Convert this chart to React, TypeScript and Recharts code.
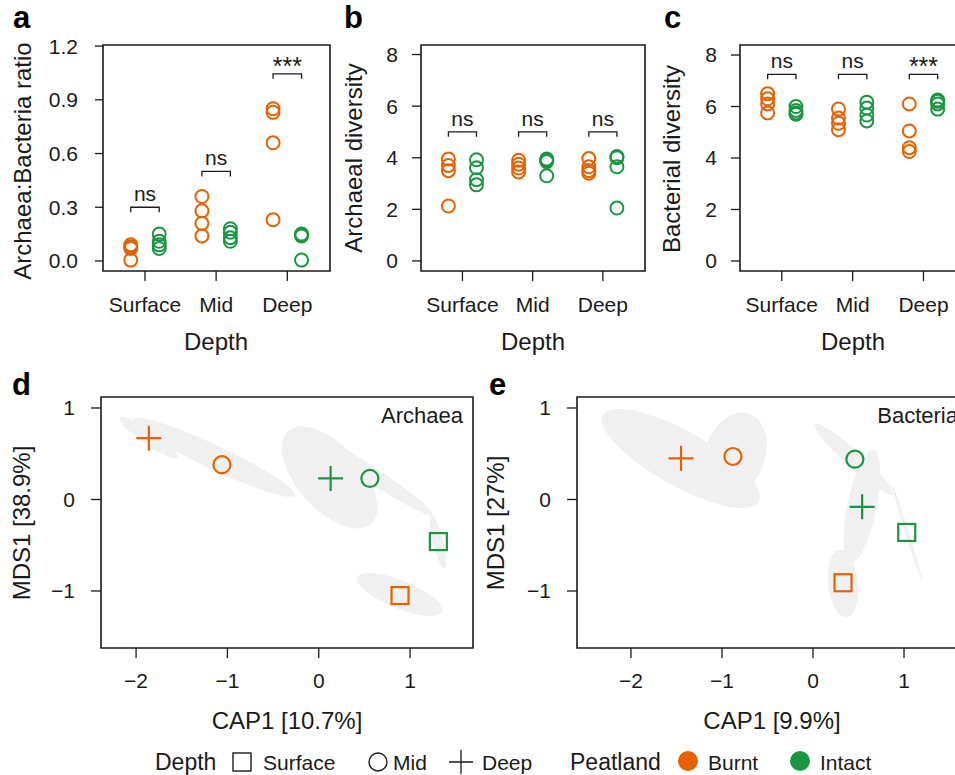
import { ReferenceArea, Scatter, ScatterChart, XAxis, YAxis } from 'recharts';

const FONT = '"Liberation Sans", Arial, Helvetica, sans-serif';
const ORANGE = '#e66101';
const GREEN = '#1a9641';
const INK = '#1a1a1a';
const HALO = '#f0f0f0';

const depths = ['Surface', 'Mid', 'Deep'];

// a: archaea:bacteria ratio, four cores per depth
const ratioBurnt = [[0.09, 0.08, 0.07, 0.005], [0.36, 0.28, 0.21, 0.14], [0.85, 0.83, 0.66, 0.23]];
const ratioIntact = [[0.15, 0.11, 0.09, 0.07], [0.18, 0.16, 0.13, 0.11], [0.15, 0.145, 0.14, 0.005]];
const ratioSig = ['ns', 'ns', '***'];
const ratioSigAt = [0.3, 0.5, 1.045];
const ratioTicks = [0, 0.3, 0.6, 0.9, 1.2];

// b: archaeal diversity
const archDivBurnt = [[3.95, 3.7, 3.5, 2.13], [3.9, 3.75, 3.6, 3.45], [3.97, 3.65, 3.5, 3.4]];
const archDivIntact = [[3.92, 3.61, 3.15, 2.95], [3.95, 3.9, 3.85, 3.3], [4.05, 4.0, 3.65, 2.05]];
const archDivSig = ['ns', 'ns', 'ns'];
const archDivSigAt = [5, 5, 5];

// c: bacterial diversity
const bactDivBurnt = [[6.5, 6.3, 6.1, 5.75], [5.9, 5.55, 5.35, 5.1], [6.1, 5.05, 4.4, 4.25]];
const bactDivIntact = [[6.0, 5.85, 5.75, 5.7], [6.17, 5.94, 5.67, 5.44], [6.25, 6.2, 6.1, 5.9]];
const bactDivSig = ['ns', 'ns', '***'];
const bactDivSigAt = [7.25, 7.25, 7.25];
const diversityTicks = [0, 2, 4, 6, 8];

// d, e: group centroids, order Surface, Mid, Deep
const archBurntX = [0.89, -1.06, -1.86];
const archBurntY = [-1.05, 0.38, 0.67];
const archIntactX = [1.31, 0.56, 0.13];
const archIntactY = [-0.46, 0.23, 0.23];
const bactBurntX = [0.33, -0.88, -1.45];
const bactBurntY = [-0.91, 0.47, 0.45];
const bactIntactX = [1.03, 0.46, 0.54];
const bactIntactY = [-0.36, 0.44, -0.08];

// dispersion ellipses: centre x, centre y, semi-axis a, semi-axis b, angle (deg)
const archEllipses = [
  [-1.864, 0.678, 0.383, 0.077, -34.6],
  [-1.14, 0.459, 0.975, 0.13, -25.3],
  [0.121, 0.24, 0.68, 0.35, -48],
  [0.504, 0.317, 0.887, 0.088, -33],
  [1.305, -0.459, 0.307, 0.055, -76.5],
  [0.888, -1.038, 0.504, 0.153, -22],
];
const bactEllipses = [
  [-1.451, 0.448, 0.978, 0.3, -29],
  [-0.857, 0.492, 0.47, 0.33, 70],
  [0.451, 0.437, 0.575, 0.09, -42],
  [0.538, -0.077, 0.63, 0.16, 78.5],
  [1.033, -0.361, 0.535, 0.022, -72.7],
  [0.33, -0.918, 0.37, 0.164, 96],
];
const ordTicksX = [-2, -1, 0, 1];
const ordTicksY = [-1, 0, 1];

const minus = (v: number) => String(v).replace('-', '\u2212');

const tickStyle = { fill: INK, fontSize: 21, fontFamily: FONT };

function stripPoints(groups: number[][], offset: number) {
  return groups.flatMap((vals, i) => vals.map((v) => ({ x: i + 1 + offset, y: v })));
}

function outline([cx, cy, a, b, deg]: number[]) {
  const r = (deg * Math.PI) / 180;
  return Array.from({ length: 72 }, (_, k) => {
    const t = (k / 72) * 2 * Math.PI;
    return {
      x: cx + a * Math.cos(t) * Math.cos(r) - b * Math.sin(t) * Math.sin(r),
      y: cy + a * Math.cos(t) * Math.sin(r) + b * Math.sin(t) * Math.cos(r),
    };
  });
}

const none = () => <g />;

const ring = (color: string) => (p: any) => (
  <circle cx={p.cx} cy={p.cy} r={6.5} fill="none" stroke={color} strokeWidth={2} />
);

const sigLabel = (p: any) => {
  const text = p.payload?.text ?? p.text;
  const stars = text === '***';
  return (
    <text
      x={p.cx}
      y={stars ? p.cy + 1 : p.cy - 6}
      textAnchor="middle"
      fontFamily={FONT}
      fontSize={stars ? 25 : 21}
      fill={INK}
    >
      {text}
    </text>
  );
};

const filledPath = (p: any) => {
  const pts = p.points || [];
  if (!pts.length) return <g />;
  const d = 'M' + pts.map((q: any) => `${q.x},${q.y}`).join('L') + 'Z';
  return <path d={d} fill={HALO} stroke="none" />;
};

const marker = (color: string) => (p: any) => {
  const kind = p.payload?.depth ?? p.depth;
  const { cx, cy } = p;
  if (kind === 0)
    return <rect x={cx - 8.5} y={cy - 8.5} width={17} height={17} fill="none" stroke={color} strokeWidth={2.2} />;
  if (kind === 1) return <circle cx={cx} cy={cy} r={8.5} fill="none" stroke={color} strokeWidth={2.2} />;
  return (
    <path
      d={`M${cx - 12.5},${cy}H${cx + 12.5}M${cx},${cy - 12.5}V${cy + 12.5}`}
      fill="none"
      stroke={color}
      strokeWidth={2.2}
    />
  );
};

type StripProps = {
  left: number;
  width: number;
  plotLeft: number;
  plotRight: number;
  yDomain: [number, number];
  yTicks: number[];
  yFmt: (v: number) => string;
  yTick: number;
  yMargin: number;
  burnt: number[][];
  intact: number[][];
  sig: string[];
  sigAt: number[];
  drop: number;
};

function StripPanel(props: StripProps) {
  const { left, width, plotLeft, plotRight, yDomain, yTicks, yFmt, yTick, yMargin, burnt, intact, sig, sigAt, drop } =
    props;
  const xDomain: [number, number] = [0.41, 3.6];
  const brackets = sigAt.map((h, i) => [
    { x: i + 0.8, y: h - drop },
    { x: i + 0.8, y: h },
    { x: i + 1.2, y: h },
    { x: i + 1.2, y: h - drop },
  ]);
  const sigPts = sig.map((s, i) => ({ x: i + 1, y: sigAt[i], text: s }));
  return (
    <div style={{ position: 'absolute', left, top: 0 }}>
      <ScatterChart width={width} height={360} margin={{ top: 45, right: width - plotRight, bottom: 0, left: 0 }}>
        <XAxis
          type="number"
          dataKey="x"
          domain={xDomain}
          allowDataOverflow
          ticks={[1, 2, 3]}
          tickFormatter={(v) => depths[v - 1]}
          height={89}
          axisLine={false}
          tickSize={10}
          tickMargin={16}
          tickLine={{ stroke: INK, strokeWidth: 1.3 }}
          tick={tickStyle}
        />
        <YAxis
          type="number"
          dataKey="y"
          domain={yDomain}
          allowDataOverflow
          ticks={yTicks}
          tickFormatter={yFmt}
          width={plotLeft}
          axisLine={false}
          tickSize={yTick}
          tickMargin={yMargin}
          tickLine={{ stroke: INK, strokeWidth: 1.3 }}
          tick={tickStyle}
        />
        <ReferenceArea
          x1={xDomain[0]}
          x2={xDomain[1]}
          y1={yDomain[0]}
          y2={yDomain[1]}
          fill="none"
          stroke={INK}
          strokeWidth={1.6}
          ifOverflow="visible"
        />
        {brackets.map((b, i) => (
          <Scatter
            key={`br${i}`}
            data={b}
            line={{ stroke: INK, strokeWidth: 1.3 }}
            lineType="joint"
            shape={none}
            isAnimationActive={false}
          />
        ))}
        <Scatter data={sigPts} shape={sigLabel} isAnimationActive={false} />
        <Scatter data={stripPoints(burnt, -0.2)} shape={ring(ORANGE)} isAnimationActive={false} />
        <Scatter data={stripPoints(intact, 0.2)} shape={ring(GREEN)} isAnimationActive={false} />
      </ScatterChart>
    </div>
  );
}

type OrdProps = {
  left: number;
  width: number;
  plotLeft: number;
  plotRight: number;
  xDomain: [number, number];
  burntX: number[];
  burntY: number[];
  intactX: number[];
  intactY: number[];
  ellipses: number[][];
};

function OrdPanel(props: OrdProps) {
  const { left, width, plotLeft, plotRight, xDomain, burntX, burntY, intactX, intactY, ellipses } = props;
  const yDomain: [number, number] = [-1.623, 1.12];
  const burnt = burntX.map((x, i) => ({ x, y: burntY[i], depth: i }));
  const intact = intactX.map((x, i) => ({ x, y: intactY[i], depth: i }));
  return (
    <div style={{ position: 'absolute', left, top: 365 }}>
      <ScatterChart width={width} height={370} margin={{ top: 32, right: width - plotRight, bottom: 0, left: 0 }}>
        <XAxis
          type="number"
          dataKey="x"
          domain={xDomain}
          allowDataOverflow
          ticks={ordTicksX}
          tickFormatter={minus}
          height={87}
          axisLine={false}
          tickSize={10}
          tickMargin={15}
          tickLine={{ stroke: INK, strokeWidth: 1.3 }}
          tick={tickStyle}
        />
        <YAxis
          type="number"
          dataKey="y"
          domain={yDomain}
          allowDataOverflow
          ticks={ordTicksY}
          tickFormatter={minus}
          width={plotLeft}
          axisLine={false}
          tickSize={10}
          tickMargin={16}
          tickLine={{ stroke: INK, strokeWidth: 1.3 }}
          tick={tickStyle}
        />
        {ellipses.map((e, i) => (
          <Scatter
            key={`el${i}`}
            data={outline(e)}
            line={filledPath}
            lineType="joint"
            shape={none}
            isAnimationActive={false}
          />
        ))}
        <ReferenceArea
          x1={xDomain[0]}
          x2={xDomain[1]}
          y1={yDomain[0]}
          y2={yDomain[1]}
          fill="none"
          stroke={INK}
          strokeWidth={1.6}
          ifOverflow="visible"
        />
        <Scatter data={burnt} shape={marker(ORANGE)} isAnimationActive={false} />
        <Scatter data={intact} shape={marker(GREEN)} isAnimationActive={false} />
      </ScatterChart>
    </div>
  );
}

function YTitle({ x, y, children }: { x: number; y: number; children: string }) {
  return (
    <text x={x} y={y} transform={`rotate(-90 ${x} ${y})`} textAnchor="middle" fontSize={24} fill={INK}>
      {children}
    </text>
  );
}

function Letter({ x, y, children }: { x: number; y: number; children: string }) {
  return (
    <text x={x} y={y} fontSize={31} fontWeight="bold" fill="#000">
      {children}
    </text>
  );
}

export default function App() {
  return (
    <div
      style={{
        position: 'fixed',
        left: 0,
        top: 0,
        width: 955,
        height: 775,
        overflow: 'hidden',
        background: '#fff',
        fontFamily: FONT,
      }}
    >
      <StripPanel
        left={0}
        width={335}
        plotLeft={103}
        plotRight={330}
        yDomain={[-0.056, 1.206]}
        yTicks={ratioTicks}
        yFmt={(v) => v.toFixed(1)}
        yTick={8}
        yMargin={17}
        burnt={ratioBurnt}
        intact={ratioIntact}
        sig={ratioSig}
        sigAt={ratioSigAt}
        drop={0.028}
      />
      <StripPanel
        left={330}
        width={325}
        plotLeft={91}
        plotRight={315}
        yDomain={[-0.39, 8.37]}
        yTicks={diversityTicks}
        yFmt={(v) => String(v)}
        yTick={9}
        yMargin={14}
        burnt={archDivBurnt}
        intact={archDivIntact}
        sig={archDivSig}
        sigAt={archDivSigAt}
        drop={0.19}
      />
      <StripPanel
        left={655}
        width={320}
        plotLeft={85}
        plotRight={311}
        yDomain={[-0.39, 8.39]}
        yTicks={diversityTicks}
        yFmt={(v) => String(v)}
        yTick={9}
        yMargin={14}
        burnt={bactDivBurnt}
        intact={bactDivIntact}
        sig={bactDivSig}
        sigAt={bactDivSigAt}
        drop={0.19}
      />
      <OrdPanel
        left={0}
        width={480}
        plotLeft={101}
        plotRight={473}
        xDomain={[-2.384, 1.689]}
        burntX={archBurntX}
        burntY={archBurntY}
        intactX={archIntactX}
        intactY={archIntactY}
        ellipses={archEllipses}
      />
      <OrdPanel
        left={480}
        width={500}
        plotLeft={97}
        plotRight={488}
        xDomain={[-2.593, 1.703]}
        burntX={bactBurntX}
        burntY={bactBurntY}
        intactX={bactIntactX}
        intactY={bactIntactY}
        ellipses={bactEllipses}
      />
      <svg
        width={955}
        height={775}
        style={{ position: 'absolute', left: 0, top: 0, pointerEvents: 'none' }}
        fontFamily={FONT}
      >
        <Letter x={13} y={28}>a</Letter>
        <Letter x={344} y={28}>b</Letter>
        <Letter x={664} y={28}>c</Letter>
        <Letter x={12} y={395}>d</Letter>
        <Letter x={489} y={395}>e</Letter>

        <YTitle x={31} y={161}>Archaea:Bacteria ratio</YTitle>
        <YTitle x={362} y={158}>Archaeal diversity</YTitle>
        <YTitle x={680} y={159}>Bacterial diversity</YTitle>
        <YTitle x={30} y={523}>MDS1 [38.9%]</YTitle>
        <YTitle x={504} y={523}>MDS1 [27%]</YTitle>

        <g fontSize={24} fill={INK} textAnchor="middle">
          <text x={216} y={350}>Depth</text>
          <text x={533} y={350}>Depth</text>
          <text x={853} y={350}>Depth</text>
          <text x={287} y={729}>CAP1 [10.7%]</text>
          <text x={772} y={729}>CAP1 [9.9%]</text>
        </g>

        <g fontSize={22} fill={INK} textAnchor="end">
          <text x={463} y={423}>Archaea</text>
          <text x={958} y={423}>Bacteria</text>
        </g>

        <g fill={INK}>
          <text x={155} y={770} fontSize={23}>Depth</text>
          <rect x={233} y={753} width={18} height={18} fill="none" stroke={INK} strokeWidth={1.4} />
          <text x={263} y={770} fontSize={21}>Surface</text>
          <circle cx={378} cy={762} r={9} fill="none" stroke={INK} strokeWidth={1.4} />
          <text x={393} y={770} fontSize={21}>Mid</text>
          <path d="M449,762H473M461,750V774" stroke={INK} strokeWidth={1.3} fill="none" />
          <text x={482} y={770} fontSize={21}>Deep</text>
          <text x={570} y={770} fontSize={23}>Peatland</text>
          <circle cx={688} cy={761} r={10} fill={ORANGE} />
          <text x={708} y={770} fontSize={21}>Burnt</text>
          <circle cx={800} cy={761} r={10} fill={GREEN} />
          <text x={820} y={770} fontSize={21}>Intact</text>
        </g>
      </svg>
    </div>
  );
}
